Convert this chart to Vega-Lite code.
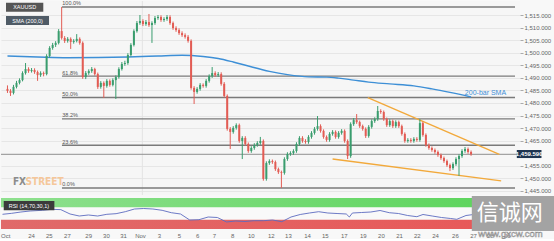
{
"$schema": "https://vega.github.io/schema/vega-lite/v6.json",
"padding": 0,
"background": "#f8f8f8",
"spacing": 3,
"bounds": "flush",
"config": {"font": "Liberation Sans", "view": {"stroke": null}, "axis": {"labelOverlap": false, "title": null}},
"datasets": {
"candles": [
{"i":0,"o":1485.6,"h":1487.0,"l":1484.0,"c":1484.8},
{"i":1,"o":1484.8,"h":1485.5,"l":1482.8,"c":1484.0},
{"i":2,"o":1484.0,"h":1487.2,"l":1483.4,"c":1486.4},
{"i":3,"o":1486.4,"h":1488.8,"l":1485.8,"c":1488.0},
{"i":4,"o":1488.0,"h":1489.8,"l":1487.4,"c":1489.1},
{"i":5,"o":1489.1,"h":1492.6,"l":1488.6,"c":1491.9},
{"i":6,"o":1491.9,"h":1495.9,"l":1491.3,"c":1493.5},
{"i":7,"o":1493.5,"h":1494.2,"l":1492.0,"c":1492.7},
{"i":8,"o":1492.7,"h":1493.9,"l":1492.1,"c":1493.1},
{"i":9,"o":1493.1,"h":1493.8,"l":1491.6,"c":1492.3},
{"i":10,"o":1492.3,"h":1492.9,"l":1488.8,"c":1491.1},
{"i":11,"o":1491.1,"h":1492.6,"l":1490.4,"c":1491.9},
{"i":12,"o":1491.9,"h":1492.5,"l":1490.6,"c":1491.5},
{"i":13,"o":1491.5,"h":1499.4,"l":1491.0,"c":1498.7},
{"i":14,"o":1498.7,"h":1502.6,"l":1498.0,"c":1501.9},
{"i":15,"o":1501.9,"h":1503.9,"l":1501.2,"c":1503.1},
{"i":16,"o":1503.1,"h":1504.6,"l":1502.3,"c":1503.9},
{"i":17,"o":1503.9,"h":1509.4,"l":1503.3,"c":1508.6},
{"i":18,"o":1508.6,"h":1518.2,"l":1505.2,"c":1505.9},
{"i":19,"o":1505.9,"h":1506.6,"l":1503.9,"c":1504.7},
{"i":20,"o":1504.7,"h":1506.2,"l":1504.0,"c":1505.5},
{"i":21,"o":1505.5,"h":1506.1,"l":1501.5,"c":1504.3},
{"i":22,"o":1504.3,"h":1505.4,"l":1503.6,"c":1504.7},
{"i":23,"o":1504.7,"h":1507.4,"l":1504.1,"c":1505.5},
{"i":24,"o":1505.5,"h":1506.1,"l":1503.2,"c":1503.9},
{"i":25,"o":1503.9,"h":1504.5,"l":1489.6,"c":1490.3},
{"i":26,"o":1490.3,"h":1492.7,"l":1489.5,"c":1491.9},
{"i":27,"o":1491.9,"h":1493.4,"l":1491.2,"c":1492.7},
{"i":28,"o":1492.7,"h":1494.3,"l":1492.0,"c":1493.5},
{"i":29,"o":1493.5,"h":1494.0,"l":1490.9,"c":1491.5},
{"i":30,"o":1491.5,"h":1492.1,"l":1485.6,"c":1486.4},
{"i":31,"o":1486.4,"h":1488.7,"l":1485.7,"c":1488.0},
{"i":32,"o":1488.0,"h":1488.6,"l":1482.0,"c":1486.8},
{"i":33,"o":1486.8,"h":1489.5,"l":1486.1,"c":1488.8},
{"i":34,"o":1488.8,"h":1489.4,"l":1486.5,"c":1487.2},
{"i":35,"o":1487.2,"h":1489.8,"l":1486.6,"c":1489.1},
{"i":36,"o":1489.1,"h":1491.0,"l":1481.6,"c":1490.3},
{"i":37,"o":1490.3,"h":1494.2,"l":1489.7,"c":1493.5},
{"i":38,"o":1493.5,"h":1496.3,"l":1492.9,"c":1495.5},
{"i":39,"o":1495.5,"h":1496.8,"l":1494.8,"c":1495.9},
{"i":40,"o":1495.9,"h":1499.8,"l":1495.2,"c":1499.1},
{"i":41,"o":1499.1,"h":1503.8,"l":1498.5,"c":1503.1},
{"i":42,"o":1503.1,"h":1509.3,"l":1502.5,"c":1508.6},
{"i":43,"o":1508.6,"h":1512.6,"l":1508.0,"c":1511.8},
{"i":44,"o":1511.8,"h":1515.0,"l":1511.1,"c":1512.6},
{"i":45,"o":1512.6,"h":1513.3,"l":1510.6,"c":1511.4},
{"i":46,"o":1511.4,"h":1513.0,"l":1510.7,"c":1512.2},
{"i":47,"o":1512.2,"h":1515.4,"l":1510.3,"c":1511.0},
{"i":48,"o":1511.0,"h":1512.5,"l":1503.9,"c":1511.8},
{"i":49,"o":1511.8,"h":1514.6,"l":1511.1,"c":1513.8},
{"i":50,"o":1513.8,"h":1515.0,"l":1513.1,"c":1514.2},
{"i":51,"o":1514.2,"h":1514.9,"l":1512.3,"c":1513.0},
{"i":52,"o":1513.0,"h":1514.1,"l":1512.3,"c":1513.4},
{"i":53,"o":1513.4,"h":1515.0,"l":1512.7,"c":1514.2},
{"i":54,"o":1514.2,"h":1514.9,"l":1511.1,"c":1511.8},
{"i":55,"o":1511.8,"h":1512.4,"l":1509.1,"c":1509.8},
{"i":56,"o":1509.8,"h":1510.5,"l":1508.3,"c":1509.0},
{"i":57,"o":1509.0,"h":1509.7,"l":1507.1,"c":1507.8},
{"i":58,"o":1507.8,"h":1508.5,"l":1506.3,"c":1507.0},
{"i":59,"o":1507.0,"h":1507.7,"l":1505.6,"c":1506.3},
{"i":60,"o":1506.3,"h":1507.0,"l":1504.0,"c":1504.7},
{"i":61,"o":1504.7,"h":1505.3,"l":1485.3,"c":1486.0},
{"i":62,"o":1486.0,"h":1486.7,"l":1479.6,"c":1484.4},
{"i":63,"o":1484.4,"h":1486.3,"l":1483.7,"c":1485.6},
{"i":64,"o":1485.6,"h":1487.9,"l":1484.9,"c":1487.2},
{"i":65,"o":1487.2,"h":1487.8,"l":1486.1,"c":1486.8},
{"i":66,"o":1486.8,"h":1489.5,"l":1486.1,"c":1488.8},
{"i":67,"o":1488.8,"h":1491.4,"l":1488.1,"c":1490.7},
{"i":68,"o":1490.7,"h":1494.3,"l":1490.0,"c":1491.9},
{"i":69,"o":1491.9,"h":1492.6,"l":1490.4,"c":1491.1},
{"i":70,"o":1491.1,"h":1492.3,"l":1490.4,"c":1491.5},
{"i":71,"o":1491.5,"h":1492.2,"l":1486.9,"c":1487.6},
{"i":72,"o":1487.6,"h":1488.3,"l":1482.1,"c":1482.8},
{"i":73,"o":1482.8,"h":1483.4,"l":1469.0,"c":1469.7},
{"i":74,"o":1469.7,"h":1470.4,"l":1461.7,"c":1468.5},
{"i":75,"o":1468.5,"h":1470.8,"l":1467.8,"c":1470.1},
{"i":76,"o":1470.1,"h":1471.9,"l":1469.4,"c":1471.2},
{"i":77,"o":1471.2,"h":1471.8,"l":1464.2,"c":1464.9},
{"i":78,"o":1464.9,"h":1466.8,"l":1457.7,"c":1466.1},
{"i":79,"o":1466.1,"h":1466.8,"l":1463.0,"c":1463.7},
{"i":80,"o":1463.7,"h":1464.3,"l":1460.2,"c":1460.9},
{"i":81,"o":1460.9,"h":1462.8,"l":1460.2,"c":1462.1},
{"i":82,"o":1462.1,"h":1464.0,"l":1461.4,"c":1463.3},
{"i":83,"o":1463.3,"h":1464.8,"l":1462.6,"c":1464.1},
{"i":84,"o":1464.1,"h":1466.5,"l":1463.4,"c":1464.9},
{"i":85,"o":1464.9,"h":1465.5,"l":1449.1,"c":1449.8},
{"i":86,"o":1449.8,"h":1456.8,"l":1449.1,"c":1456.1},
{"i":87,"o":1456.1,"h":1457.6,"l":1455.4,"c":1456.9},
{"i":88,"o":1456.9,"h":1457.5,"l":1455.8,"c":1456.5},
{"i":89,"o":1456.5,"h":1457.1,"l":1453.0,"c":1453.7},
{"i":90,"o":1453.7,"h":1454.3,"l":1451.8,"c":1452.5},
{"i":91,"o":1452.5,"h":1453.1,"l":1446.2,"c":1452.2},
{"i":92,"o":1452.2,"h":1458.4,"l":1451.5,"c":1457.7},
{"i":93,"o":1457.7,"h":1460.4,"l":1457.0,"c":1459.7},
{"i":94,"o":1459.7,"h":1460.8,"l":1459.0,"c":1460.1},
{"i":95,"o":1460.1,"h":1461.6,"l":1459.4,"c":1460.9},
{"i":96,"o":1460.9,"h":1464.4,"l":1460.2,"c":1463.7},
{"i":97,"o":1463.7,"h":1466.8,"l":1463.0,"c":1466.1},
{"i":98,"o":1466.1,"h":1466.8,"l":1464.2,"c":1464.9},
{"i":99,"o":1464.9,"h":1465.6,"l":1463.8,"c":1464.5},
{"i":100,"o":1464.5,"h":1467.2,"l":1463.8,"c":1466.5},
{"i":101,"o":1466.5,"h":1468.8,"l":1465.8,"c":1468.1},
{"i":102,"o":1468.1,"h":1470.4,"l":1467.4,"c":1469.7},
{"i":103,"o":1469.7,"h":1474.8,"l":1469.0,"c":1470.8},
{"i":104,"o":1470.8,"h":1471.5,"l":1468.2,"c":1468.9},
{"i":105,"o":1468.9,"h":1469.5,"l":1465.8,"c":1466.5},
{"i":106,"o":1466.5,"h":1467.1,"l":1464.6,"c":1465.3},
{"i":107,"o":1465.3,"h":1468.4,"l":1464.6,"c":1467.7},
{"i":108,"o":1467.7,"h":1469.2,"l":1467.0,"c":1468.5},
{"i":109,"o":1468.5,"h":1469.1,"l":1465.8,"c":1466.5},
{"i":110,"o":1466.5,"h":1468.8,"l":1465.8,"c":1468.1},
{"i":111,"o":1468.1,"h":1469.6,"l":1467.4,"c":1468.9},
{"i":112,"o":1468.9,"h":1469.5,"l":1464.2,"c":1464.9},
{"i":113,"o":1464.9,"h":1465.5,"l":1457.7,"c":1458.9},
{"i":114,"o":1458.9,"h":1472.3,"l":1458.2,"c":1471.6},
{"i":115,"o":1471.6,"h":1474.0,"l":1470.9,"c":1473.2},
{"i":116,"o":1473.2,"h":1475.6,"l":1471.7,"c":1472.4},
{"i":117,"o":1472.4,"h":1473.0,"l":1470.1,"c":1470.8},
{"i":118,"o":1470.8,"h":1471.4,"l":1469.0,"c":1469.7},
{"i":119,"o":1469.7,"h":1470.3,"l":1466.1,"c":1466.9},
{"i":120,"o":1466.9,"h":1471.2,"l":1466.2,"c":1470.5},
{"i":121,"o":1470.5,"h":1473.5,"l":1469.8,"c":1472.8},
{"i":122,"o":1472.8,"h":1474.3,"l":1472.1,"c":1473.6},
{"i":123,"o":1473.6,"h":1478.8,"l":1472.9,"c":1476.8},
{"i":124,"o":1476.8,"h":1477.5,"l":1475.7,"c":1476.4},
{"i":125,"o":1476.4,"h":1477.0,"l":1472.9,"c":1473.6},
{"i":126,"o":1473.6,"h":1474.2,"l":1470.5,"c":1471.2},
{"i":127,"o":1471.2,"h":1473.5,"l":1470.5,"c":1472.8},
{"i":128,"o":1472.8,"h":1473.4,"l":1470.1,"c":1470.8},
{"i":129,"o":1470.8,"h":1473.1,"l":1470.1,"c":1472.4},
{"i":130,"o":1472.4,"h":1473.0,"l":1470.1,"c":1470.8},
{"i":131,"o":1470.8,"h":1471.4,"l":1467.0,"c":1467.7},
{"i":132,"o":1467.7,"h":1468.3,"l":1464.2,"c":1464.9},
{"i":133,"o":1464.9,"h":1466.0,"l":1464.2,"c":1465.3},
{"i":134,"o":1465.3,"h":1466.0,"l":1464.2,"c":1464.9},
{"i":135,"o":1464.9,"h":1466.4,"l":1464.2,"c":1465.7},
{"i":136,"o":1465.7,"h":1466.4,"l":1464.6,"c":1465.3},
{"i":137,"o":1465.3,"h":1473.6,"l":1464.6,"c":1472.0},
{"i":138,"o":1472.0,"h":1472.6,"l":1466.6,"c":1467.3},
{"i":139,"o":1467.3,"h":1467.9,"l":1462.6,"c":1463.3},
{"i":140,"o":1463.3,"h":1463.9,"l":1461.4,"c":1462.1},
{"i":141,"o":1462.1,"h":1462.7,"l":1460.6,"c":1461.3},
{"i":142,"o":1461.3,"h":1461.9,"l":1459.8,"c":1460.5},
{"i":143,"o":1460.5,"h":1461.1,"l":1458.6,"c":1459.3},
{"i":144,"o":1459.3,"h":1459.9,"l":1457.4,"c":1458.1},
{"i":145,"o":1458.1,"h":1458.7,"l":1456.2,"c":1456.9},
{"i":146,"o":1456.9,"h":1457.5,"l":1454.6,"c":1455.3},
{"i":147,"o":1455.3,"h":1455.9,"l":1452.9,"c":1454.1},
{"i":148,"o":1454.1,"h":1456.4,"l":1453.4,"c":1455.7},
{"i":149,"o":1455.7,"h":1458.4,"l":1455.0,"c":1457.7},
{"i":150,"o":1457.7,"h":1459.6,"l":1451.0,"c":1458.9},
{"i":151,"o":1458.9,"h":1461.6,"l":1458.2,"c":1460.9},
{"i":152,"o":1460.9,"h":1462.5,"l":1460.2,"c":1461.7},
{"i":153,"o":1461.7,"h":1462.3,"l":1459.8,"c":1460.5},
{"i":154,"o":1460.5,"h":1461.1,"l":1459.0,"c":1459.6}
],
"sma": [
{"i":0,"p":1498.7},{"i":10,"p":1498.3},{"i":20,"p":1498.0},{"i":30,"p":1498.1},{"i":40,"p":1498.3},{"i":50,"p":1498.7},{"i":58,"p":1499.0},{"i":65,"p":1498.5},{"i":70,"p":1497.7},{"i":75,"p":1496.3},{"i":80,"p":1494.7},{"i":87,"p":1492.6},{"i":93,"p":1491.3},{"i":100,"p":1490.4},{"i":106,"p":1490.3},{"i":110,"p":1489.9},{"i":115,"p":1489.1},{"i":120,"p":1488.3},{"i":127,"p":1487.6},{"i":135,"p":1486.8},{"i":141,"p":1485.6},{"i":147,"p":1484.2},{"i":154,"p":1482.4}
],
"trend": [
{"t":"upper","i":119.7,"p":1482.1},{"t":"upper","i":163.4,"p":1459.6},
{"t":"lower","i":108,"p":1457.7},{"t":"lower","i":164,"p":1449.0}
],
"fib": [
{"lab":"100.0%","p":1518.2},{"lab":"61.8%","p":1490.7},{"lab":"50.0%","p":1482.2},{"lab":"38.2%","p":1473.7},{"lab":"23.6%","p":1463.2},{"lab":"0.0%","p":1446.2}
],
"rsi": [
{"i":0,"r":47.4},{"i":3,"r":50.6},{"i":6,"r":54.8},{"i":9,"r":58.1},{"i":13,"r":60.3},{"i":16,"r":63.5},{"i":19,"r":62.5},{"i":22,"r":48.4},{"i":25,"r":41.9},{"i":28,"r":45.2},{"i":31,"r":41.9},{"i":34,"r":47.4},{"i":37,"r":49.4},{"i":40,"r":55.8},{"i":43,"r":64.5},{"i":46,"r":66.1},{"i":49,"r":64.5},{"i":52,"r":60.3},{"i":55,"r":52.6},{"i":58,"r":48.4},{"i":61,"r":29.0},{"i":64,"r":30.0},{"i":67,"r":38.7},{"i":70,"r":37.1},{"i":73,"r":22.6},{"i":76,"r":25.8},{"i":79,"r":24.2},{"i":82,"r":26.8},{"i":85,"r":26.8},{"i":88,"r":29.0},{"i":91,"r":23.5},{"i":94,"r":38.7},{"i":97,"r":46.8},{"i":100,"r":51.6},{"i":103,"r":55.8},{"i":106,"r":51.6},{"i":109,"r":50.0},{"i":112,"r":48.4},{"i":113,"r":38.7},{"i":114,"r":51.6},{"i":117,"r":53.2},{"i":120,"r":54.8},{"i":123,"r":59.7},{"i":126,"r":52.6},{"i":129,"r":50.0},{"i":132,"r":43.5},{"i":135,"r":39.7},{"i":137,"r":46.8},{"i":140,"r":41.9},{"i":143,"r":37.1},{"i":146,"r":33.9},{"i":148,"r":31.3},{"i":151,"r":43.5},{"i":154,"r":47.4}
]
},
"vconcat": [
{
"width": 519, "height": 194,
"view": {"fill": "#f6f6f6", "stroke": null},
"layer": [
{"data": {"values": [{}]}, "mark": {"type": "rule", "color": "#e3e3e3", "strokeWidth": 1},
 "encoding": {"x": {"datum": 44.8, "type": "quantitative", "scale": {"domain": [-0.49, 168.6], "nice": false, "zero": false}, "axis": null}}},
{"data": {"values": [{}]}, "mark": {"type": "rule", "color": "#8f8f8f", "strokeWidth": 1},
 "encoding": {"y": {"datum": 1459.59, "type": "quantitative", "scale": {"domain": [1443.4, 1520.57], "nice": false, "zero": false},
   "axis": {"orient": "right", "title": null, "values": [1445,1450,1455,1465,1470,1475,1480,1485,1490,1495,1500,1505,1510,1515], "tickCount": 100, "format": ",.3f", "grid": true, "gridColor": "#e6e6e6", "gridWidth": 1, "domain": false, "tickSize": 3, "tickColor": "#aaaaaa", "labelFontSize": 6, "labelColor": "#666666", "labelPadding": 1, "labelOverlap": false, "labelBound": false}}}},
{"data": {"name": "fib"}, "mark": {"type": "rule", "color": "#7a7a7a", "strokeWidth": 1.4},
 "encoding": {"x": {"datum": 18.1, "type": "quantitative"}, "x2": {"datum": 168.6}, "y": {"field": "p", "type": "quantitative"}}},
{"data": {"name": "fib"}, "mark": {"type": "text", "align": "left", "baseline": "bottom", "dy": -0.5, "fontSize": 5.5, "color": "#555555"},
 "encoding": {"x": {"datum": 18.2, "type": "quantitative"}, "y": {"field": "p", "type": "quantitative"}, "text": {"field": "lab"}}},
{"data": {"name": "sma"}, "mark": {"type": "line", "color": "#3d8fd6", "strokeWidth": 1.4, "interpolate": "monotone"},
 "encoding": {"x": {"field": "i", "type": "quantitative"}, "y": {"field": "p", "type": "quantitative"}}},
{"data": {"name": "trend"}, "mark": {"type": "line", "color": "#f2a93b", "strokeWidth": 1.4},
 "encoding": {"x": {"field": "i", "type": "quantitative"}, "y": {"field": "p", "type": "quantitative"}, "detail": {"field": "t"}}},
{"data": {"name": "candles"}, "mark": {"type": "rule", "strokeWidth": 1},
 "encoding": {"x": {"field": "i", "type": "quantitative"}, "y": {"field": "l", "type": "quantitative"}, "y2": {"field": "h"},
   "color": {"condition": {"test": "datum.c >= datum.o", "value": "#3a9d6e"}, "value": "#e25c54"}}},
{"data": {"name": "candles"}, "mark": {"type": "bar", "size": 2},
 "encoding": {"x": {"field": "i", "type": "quantitative"}, "y": {"field": "o", "type": "quantitative"}, "y2": {"field": "c"},
   "color": {"condition": {"test": "datum.c >= datum.o", "value": "#3a9d6e"}, "value": "#e25c54"}}},
{"data": {"values": [{}]}, "mark": {"type": "text", "text": "200-bar SMA", "fontSize": 7, "color": "#3d8fd6", "align": "center", "baseline": "middle"},
 "encoding": {"x": {"datum": 158.8, "type": "quantitative"}, "y": {"datum": 1484.0, "type": "quantitative"}}},
{"data": {"values": [{}]}, "mark": {"type": "rect", "color": "#555555"},
 "encoding": {"x": {"datum": -0.49, "type": "quantitative"}, "x2": {"datum": 11.9}, "y": {"datum": 1519.9, "type": "quantitative"}, "y2": {"datum": 1516.3}}},
{"data": {"values": [{}]}, "mark": {"type": "text", "text": "XAUUSD", "fontSize": 5.5, "color": "#ffffff", "align": "center", "baseline": "middle"},
 "encoding": {"x": {"datum": 5.7, "type": "quantitative"}, "y": {"datum": 1518.1, "type": "quantitative"}}},
{"data": {"values": [{}]}, "mark": {"type": "rect", "color": "#4f5b66"},
 "encoding": {"x": {"datum": -0.49, "type": "quantitative"}, "x2": {"datum": 13.8}, "y": {"datum": 1514.6, "type": "quantitative"}, "y2": {"datum": 1511.0}}},
{"data": {"values": [{}]}, "mark": {"type": "text", "text": "SMA (200,0)", "fontSize": 5.5, "color": "#ffffff", "align": "center", "baseline": "middle"},
 "encoding": {"x": {"datum": 6.7, "type": "quantitative"}, "y": {"datum": 1512.8, "type": "quantitative"}}},
{"data": {"values": [{}]}, "mark": {"type": "text", "text": "FX", "fontSize": 10, "fontWeight": "bold", "font": "DejaVu Sans Condensed", "color": "#8c8c8c", "align": "left", "baseline": "alphabetic"},
 "encoding": {"x": {"datum": 1.8, "type": "quantitative"}, "y": {"datum": 1447.4, "type": "quantitative"}}},
{"data": {"values": [{}]}, "mark": {"type": "text", "text": "STREET", "fontSize": 10, "fontWeight": "bold", "font": "DejaVu Sans Condensed", "color": "#f5c79a", "align": "left", "baseline": "alphabetic"},
 "encoding": {"x": {"datum": 6.0, "type": "quantitative"}, "y": {"datum": 1447.4, "type": "quantitative"}}},
{"data": {"values": [{}]}, "mark": {"type": "rect", "color": "#1f3550"},
 "encoding": {"x": {"datum": 169.2, "type": "quantitative"}, "x2": {"datum": 177.4}, "y": {"datum": 1461.3, "type": "quantitative"}, "y2": {"datum": 1458.1}}},
{"data": {"values": [{}]}, "mark": {"type": "text", "text": "1,459.590", "fontSize": 6, "fontWeight": "bold", "color": "#ffffff", "align": "center", "baseline": "middle"},
 "encoding": {"x": {"datum": 173.3, "type": "quantitative"}, "y": {"datum": 1459.6, "type": "quantitative"}}}
]
},
{
"width": 519, "height": 31,
"view": {"fill": "#f9f9f9", "stroke": null},
"layer": [
{"data": {"values": [{}]}, "mark": {"type": "rect", "color": {"x1": 0, "y1": 0, "x2": 1, "y2": 0, "gradient": "linear", "stops": [{"offset": 0, "color": "#8fe08f"}, {"offset": 1, "color": "#5ad45a"}]}},
 "encoding": {"x": {"datum": -0.49, "type": "quantitative", "scale": {"domain": [-0.49, 168.6], "nice": false, "zero": false},
   "axis": {"title": null, "values": [0.9,9.3,15.1,21,27.9,33.7,39.3,44.8,51,57.5,63.4,68.9,74.8,80.9,87.4,93,99.2,105,111.2,117.4,123.3,129.2,135,140.9,147.4,153.3,158.8,164.3], "tickCount": 100,
     "labelExpr": "['Oct','24','25','27','29','30','31','Nov','3','5','6','7','8','10','12','13','14','15','17','19','20','21','22','24','26','27','28','29'][indexof([0.9,9.3,15.1,21,27.9,33.7,39.3,44.8,51,57.5,63.4,68.9,74.8,80.9,87.4,93,99.2,105,111.2,117.4,123.3,129.2,135,140.9,147.4,153.3,158.8,164.3], datum.value)]",
     "grid": false, "ticks": false, "domain": false, "labelFontSize": 6, "labelColor": "#666666", "labelPadding": 3, "labelOverlap": false, "labelBound": false, "labelFlush": false}},
   "x2": {"datum": 168.6},
   "y": {"datum": 70, "type": "quantitative", "scale": {"domain": [0, 100], "nice": false, "zero": false}, "axis": null}, "y2": {"datum": 100}}},
{"data": {"values": [{}]}, "mark": {"type": "rect", "color": {"x1": 0, "y1": 0, "x2": 1, "y2": 0, "gradient": "linear", "stops": [{"offset": 0, "color": "#e06a6a"}, {"offset": 1, "color": "#e85858"}]}},
 "encoding": {"x": {"datum": -0.49, "type": "quantitative"}, "x2": {"datum": 168.6}, "y": {"datum": 0, "type": "quantitative"}, "y2": {"datum": 30}}},
{"data": {"name": "rsi"}, "mark": {"type": "line", "color": "#5c6bc0", "strokeWidth": 0.9},
 "encoding": {"x": {"field": "i", "type": "quantitative"}, "y": {"field": "r", "type": "quantitative"}}},
{"data": {"values": [{}]}, "mark": {"type": "rect", "color": "#3b3b3b"},
 "encoding": {"x": {"datum": 0.4, "type": "quantitative"}, "x2": {"datum": 16.9}, "y": {"datum": 60.3, "type": "quantitative"}, "y2": {"datum": 90.3}}},
{"data": {"values": [{}]}, "mark": {"type": "text", "text": "RSI (14,70,30,1)", "fontSize": 5.5, "color": "#ffffff", "align": "center", "baseline": "middle"},
 "encoding": {"x": {"datum": 8.6, "type": "quantitative"}, "y": {"datum": 75.3, "type": "quantitative"}}},
{"data": {"values": [{}]}, "mark": {"type": "rect", "color": "#a3a3a3"},
 "encoding": {"x": {"datum": 152.9, "type": "quantitative"}, "x2": {"datum": 180}, "y": {"datum": -6.5, "type": "quantitative"}, "y2": {"datum": 106.5}}},
{"data": {"values": [{}]}, "mark": {"type": "text", "text": "信诚网", "font": "Noto Sans CJK SC", "fontSize": 22, "color": "#ffffff", "align": "center", "baseline": "middle"},
 "encoding": {"x": {"datum": 165.3, "type": "quantitative"}, "y": {"datum": 52, "type": "quantitative"}}},
{"data": {"values": [{}]}, "mark": {"type": "text", "text": "www.gxcw.com", "fontSize": 9.5, "color": "#f2f2f2", "stroke": "#8a8a8a", "strokeWidth": 0.5, "align": "center", "baseline": "middle"},
 "encoding": {"x": {"datum": 165.5, "type": "quantitative"}, "y": {"datum": -16, "type": "quantitative"}}}
]
}
]
}
